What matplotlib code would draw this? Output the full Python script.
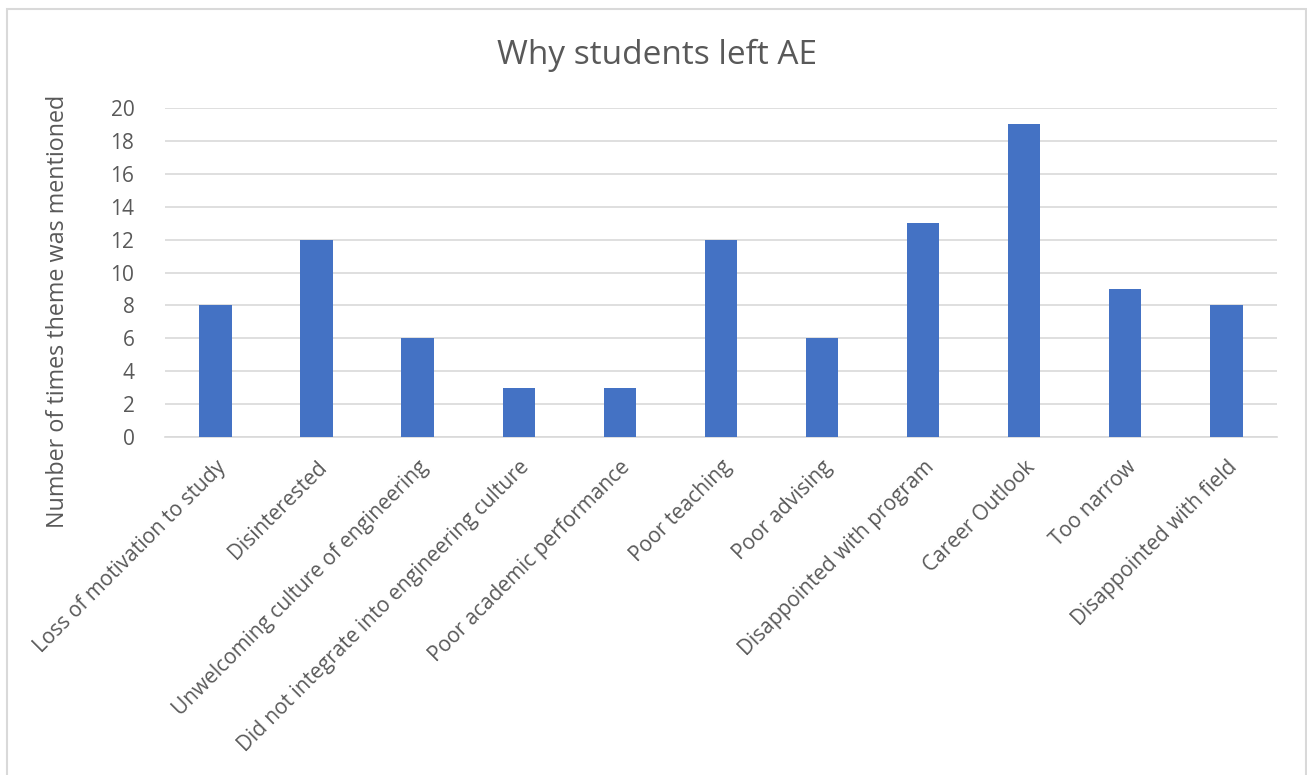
import matplotlib.pyplot as plt
from matplotlib.patches import Rectangle

reasons = ['Loss of motivation to study', 'Disinterested',
           'Unwelcoming culture of engineering',
           'Did not integrate into engineering culture',
           'Poor academic performance', 'Poor teaching', 'Poor advising',
           'Disappointed with program', 'Career Outlook', 'Too narrow',
           'Disappointed with field']
counts = [8, 12, 6, 3, 3, 12, 6, 13, 19, 9, 8]
yticks = [0, 2, 4, 6, 8, 10, 12, 14, 16, 18, 20]

plt.rcParams['font.family'] = ['Open Sans', 'DejaVu Sans']
grey = '#595959'

fig = plt.figure(figsize=(13.07, 7.75), dpi=100)
ax = fig.add_axes([0.1262, 0.4361, 0.8508, 0.4245])

x = list(range(len(reasons)))
ax.bar(x, counts, width=0.32, color='#4472C4', zorder=3)
ax.set_xlim(-0.5, len(reasons) - 0.5)
ax.set_ylim(0, 20)
ax.set_yticks(yticks)
ax.set_yticklabels([str(v) for v in yticks], fontsize=15)
ax.grid(axis='y', color='#d9d9d9', linewidth=1.2, zorder=0)
for s in ['top', 'right', 'left']:
    ax.spines[s].set_visible(False)
ax.spines['bottom'].set_color('#d9d9d9')
ax.spines['bottom'].set_linewidth(1.2)
ax.tick_params(length=0, colors=grey)
ax.tick_params(axis='y', pad=22)
ax.set_xticks(x)
ax.set_xticklabels(reasons, rotation=45, ha='right', rotation_mode='anchor',
                   fontsize=15)
ax.tick_params(axis='x', pad=14)

ax.set_ylabel('Number of times theme was mentioned', fontsize=16.8, color=grey)
ax.yaxis.set_label_coords(-0.085, 0.383)
fig.text(0.503, 0.929, 'Why students left AE', fontsize=24, color=grey,
         ha='center', va='center')

fig.patches.append(Rectangle((0.0054, -0.1), 0.9938, 1.0884, transform=fig.transFigure,
                             fill=False, edgecolor='#d9d9d9', linewidth=1.5))

fig.savefig('out.png', dpi=100)
